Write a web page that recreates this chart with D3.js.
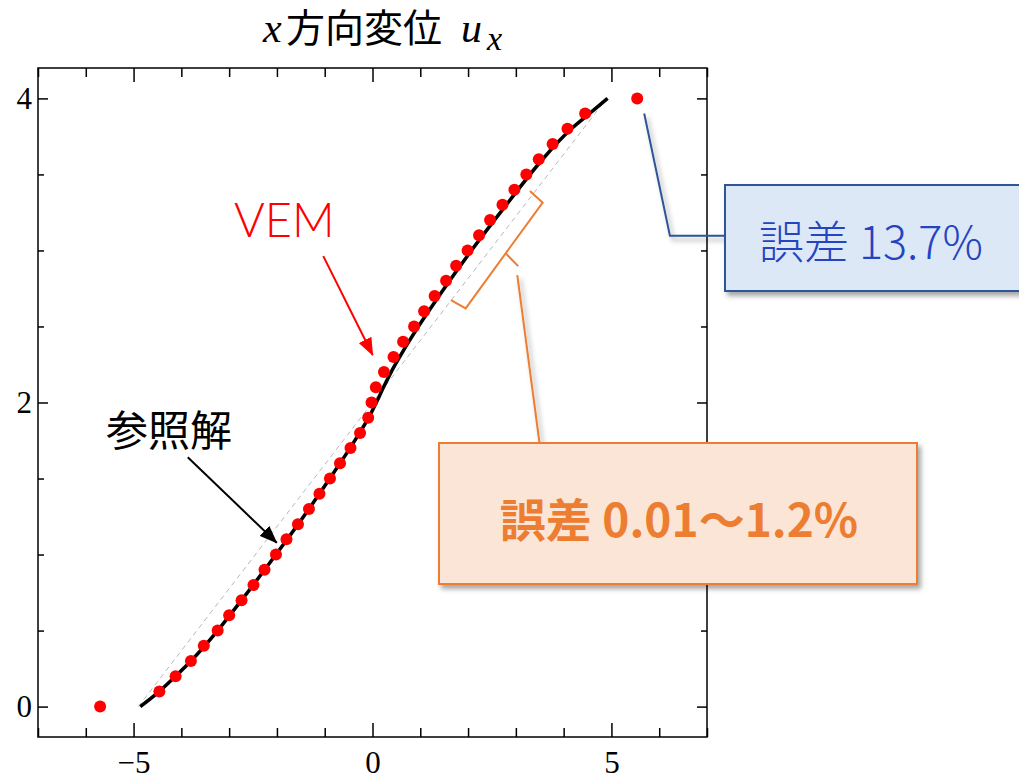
<!DOCTYPE html>
<html>
<head>
<meta charset="utf-8">
<script src="https://cdn.jsdelivr.net/npm/d3@7"></script>
<style>
  body { margin: 0; background: #fff; }
  svg { display: block; }
</style>
</head>
<body>
<svg id="chart" width="1019" height="779"></svg>
<script>
// VEM result (red dots)
const vemX = [-5.70, -4.46, -4.12, -3.80, -3.53, -3.24, -3.00, -2.74, -2.49, -2.26, -2.02,
  -1.80, -1.56, -1.33, -1.11, -0.89, -0.68, -0.46, -0.26, -0.09, -0.02,
  0.07, 0.24, 0.44, 0.64, 0.87, 1.08, 1.30, 1.54, 1.75, 1.99,
  2.23, 2.46, 2.72, 2.97, 3.22, 3.48, 3.77, 4.08, 4.45, 5.54];
const vemY = [0.0, 0.1, 0.2, 0.3, 0.4, 0.5, 0.6, 0.7, 0.8, 0.9, 1.0,
  1.1, 1.2, 1.3, 1.4, 1.5, 1.6, 1.7, 1.8, 1.9, 2.0,
  2.1, 2.2, 2.3, 2.4, 2.5, 2.6, 2.7, 2.8, 2.9, 3.0,
  3.1, 3.2, 3.3, 3.4, 3.5, 3.6, 3.7, 3.8, 3.9, 4.0];

// reference solution (black line)
const refX = [-4.86, -4.46, -4.12, -3.80, -3.24, -2.74, -2.02, -1.33, -0.68, -0.47, -0.27, -0.08, 0.08,
  0.23, 0.39, 0.57, 0.76, 0.96, 1.39, 2.07, 2.80, 3.56, 4.16, 4.54, 4.92];
const refY = [0.0, 0.1, 0.2, 0.3, 0.5, 0.7, 1.0, 1.3, 1.6, 1.7, 1.8, 1.9, 2.0,
  2.1, 2.2, 2.3, 2.4, 2.5, 2.7, 3.0, 3.3, 3.6, 3.8, 3.9, 4.0];

// straight guide (grey dashed)
const guideX = [-4.9, 4.9];
const guideY = [0.0, 4.0];

const xMajor = [-5, 0, 5];
const xMinor = [-7, -6, -4, -3, -2, -1, 1, 2, 3, 4, 6, 7];
const yMajor = [0, 2, 4];
const yMinor = [0.5, 1, 1.5, 2.5, 3, 3.5];

const titleParts = ["x", "方向変位", "u", "x"];
const vemLabel = "VEM";
const refLabel = "参照解";
const errBlue = "誤差 13.7%";
const errOrange = "誤差 0.01～1.2%";

const svg = d3.select("#chart");
const plotL = 38, plotR = 707, plotT = 68, plotB = 737;

const x = d3.scaleLinear().domain([-7, 7]).range([plotL, plotR]);
const y = d3.scaleLinear().domain([-0.2, 4.2]).range([plotB, plotT]);

const defs = svg.append("defs");
defs.append("filter").attr("id", "shadow")
  .attr("x", "-20%").attr("y", "-20%").attr("width", "140%").attr("height", "150%")
  .append("feDropShadow")
  .attr("dx", 3).attr("dy", 4).attr("stdDeviation", 2.5)
  .attr("flood-color", "#000").attr("flood-opacity", 0.35);

function arrowMarker(id, color) {
  defs.append("marker").attr("id", id)
    .attr("markerUnits", "userSpaceOnUse")
    .attr("markerWidth", 18).attr("markerHeight", 14)
    .attr("refX", 17).attr("refY", 7).attr("orient", "auto")
    .append("path").attr("d", "M0,0 L18,7 L0,14 Z").attr("fill", color);
}
arrowMarker("arrowRed", "#ff0000");
arrowMarker("arrowBlack", "#000");

// title
const serif = "'Liberation Serif', serif";
const cjk = "'Noto Sans CJK JP', sans-serif";
const title = svg.append("text").attr("y", 42).attr("fill", "#000");
title.append("tspan").attr("x", 263).text(titleParts[0])
  .style("font-family", serif).style("font-style", "italic").style("font-size", "42px");
title.append("tspan").attr("x", 286).text(titleParts[1])
  .style("font-family", cjk).style("font-size", "39px");
title.append("tspan").attr("x", 461).text(titleParts[2])
  .style("font-family", serif).style("font-style", "italic").style("font-size", "42px");
title.append("tspan").attr("x", 487).attr("dy", 8).text(titleParts[3])
  .style("font-family", serif).style("font-style", "italic").style("font-size", "34px");

// axes (ticks pointing inward on all four sides)
function styleAxis(g) {
  g.select(".domain").remove();
  g.selectAll("line").attr("stroke", "#000").attr("stroke-width", 1.5);
  g.selectAll("text").style("font-family", serif).style("font-size", "31px").attr("fill", "#000");
}
const fmt = d3.format("d");
svg.append("g").attr("transform", `translate(0,${plotB})`)
  .call(d3.axisBottom(x).tickValues(xMajor).tickSize(-14).tickPadding(14).tickFormat(fmt)).call(styleAxis);
svg.append("g").attr("transform", `translate(0,${plotB})`)
  .call(d3.axisBottom(x).tickValues(xMinor).tickSize(-9).tickFormat("")).call(styleAxis);
svg.append("g").attr("transform", `translate(0,${plotT})`)
  .call(d3.axisTop(x).tickValues(xMajor).tickSize(-14).tickFormat("")).call(styleAxis);
svg.append("g").attr("transform", `translate(0,${plotT})`)
  .call(d3.axisTop(x).tickValues(xMinor).tickSize(-9).tickFormat("")).call(styleAxis);
svg.append("g").attr("transform", `translate(${plotL},0)`)
  .call(d3.axisLeft(y).tickValues(yMajor).tickSize(-10).tickPadding(6).tickFormat(fmt)).call(styleAxis);
svg.append("g").attr("transform", `translate(${plotL},0)`)
  .call(d3.axisLeft(y).tickValues(yMinor).tickSize(-6).tickFormat("")).call(styleAxis);
svg.append("g").attr("transform", `translate(${plotR},0)`)
  .call(d3.axisRight(y).tickValues(yMajor).tickSize(-10).tickFormat("")).call(styleAxis);
svg.append("g").attr("transform", `translate(${plotR},0)`)
  .call(d3.axisRight(y).tickValues(yMinor).tickSize(-6).tickFormat("")).call(styleAxis);

svg.append("rect").attr("x", plotL).attr("y", plotT)
  .attr("width", plotR - plotL).attr("height", plotB - plotT)
  .attr("fill", "none").attr("stroke", "#000").attr("stroke-width", 1.5);

// guide line
svg.append("path")
  .datum(d3.zip(guideX, guideY))
  .attr("d", d3.line().x(d => x(d[0])).y(d => y(d[1])))
  .attr("fill", "none").attr("stroke", "#b8b8b8").attr("stroke-width", 1)
  .attr("stroke-dasharray", "5,4");

// reference solution
svg.append("path")
  .datum(d3.zip(refX, refY))
  .attr("d", d3.line().x(d => x(d[0])).y(d => y(d[1])).curve(d3.curveMonotoneX))
  .attr("fill", "none").attr("stroke", "#000").attr("stroke-width", 3.5);

// VEM dots
svg.append("g").selectAll("circle")
  .data(d3.zip(vemX, vemY))
  .join("circle")
  .attr("cx", d => x(d[0])).attr("cy", d => y(d[1])).attr("r", 6)
  .attr("fill", "#ff0000");

// labels + arrows
svg.append("text").attr("x", 234).attr("y", 237).text(vemLabel)
  .attr("fill", "#ff0000").style("font-family", "Lato, sans-serif")
  .style("font-weight", 300).style("font-size", "47px");
svg.append("line")
  .attr("x1", x(-1.03)).attr("y1", y(2.963)).attr("x2", x(0.004)).attr("y2", y(2.312))
  .attr("stroke", "#ff0000").attr("stroke-width", 2).attr("marker-end", "url(#arrowRed)");

svg.append("text").attr("x", 106).attr("y", 446).text(refLabel)
  .attr("fill", "#000").style("font-family", cjk).style("font-size", "42px");
svg.append("line")
  .attr("x1", x(-3.866)).attr("y1", y(1.640)).attr("x2", x(-2.004)).attr("y2", y(1.078))
  .attr("stroke", "#000").attr("stroke-width", 2).attr("marker-end", "url(#arrowBlack)");

// orange bracket over the range of small error
const brace = [[3.295, 3.391], [3.561, 3.314], [2.787, 2.981], [1.950, 2.619], [1.642, 2.674]];
svg.append("path")
  .datum(brace)
  .attr("d", d3.line().x(d => x(d[0])).y(d => y(d[1])))
  .attr("fill", "none").attr("stroke", "#ed7d31").attr("stroke-width", 2);
svg.append("line")
  .attr("x1", x(2.787)).attr("y1", y(2.981)).attr("x2", x(3.05)).attr("y2", y(2.897))
  .attr("stroke", "#ed7d31").attr("stroke-width", 2);

// blue callout
const blue = svg.append("g").attr("filter", "url(#shadow)");
blue.append("path")
  .attr("d", `M${x(5.686)},${y(3.901)} L${x(6.224)},${y(3.097)} L725,${y(3.097)}`)
  .attr("fill", "none").attr("stroke", "#2f5597").attr("stroke-width", 2);
blue.append("rect").attr("x", 725).attr("y", 185).attr("width", 330).attr("height", 106)
  .attr("fill", "#dce8f5").attr("stroke", "#2f5597").attr("stroke-width", 2);
svg.append("text").attr("x", 759).attr("y", 259).text(errBlue)
  .attr("fill", "#2444c2").style("font-family", cjk)
  .style("font-weight", 300).style("font-size", "45px");

// orange callout
const orange = svg.append("g").attr("filter", "url(#shadow)");
orange.append("line")
  .attr("x1", x(3.03)).attr("y1", y(2.838)).attr("x2", 539.5).attr("y2", 443)
  .attr("stroke", "#ed7d31").attr("stroke-width", 2);
orange.append("rect").attr("x", 439).attr("y", 443).attr("width", 478).attr("height", 141)
  .attr("fill", "#fbe5d6").attr("stroke", "#ed7d31").attr("stroke-width", 2);
svg.append("text").attr("x", 679).attr("y", 537).attr("text-anchor", "middle").text(errOrange)
  .attr("fill", "#ed7d31").style("font-family", cjk)
  .style("font-weight", "bold").style("font-size", "46px");
</script>
</body>
</html>
